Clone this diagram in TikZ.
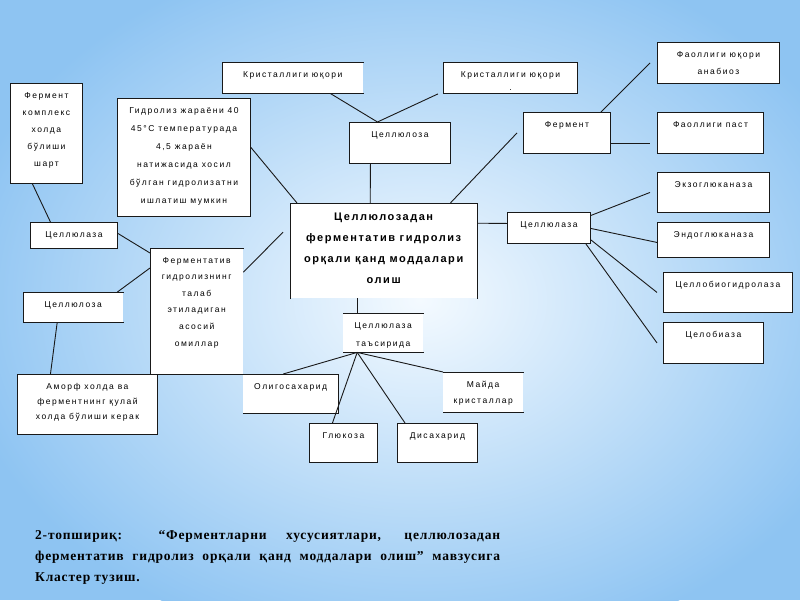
\documentclass[tikz,border=0pt]{standalone}
\usepackage{fontspec}
\setmainfont{Liberation Serif}
\newfontfamily\boxfont[LetterSpace=18]{Liberation Sans}
\newfontfamily\ttlfont[LetterSpace=14]{Liberation Sans}
\newfontfamily\capfont[LetterSpace=6]{Liberation Serif}
\definecolor{bgblue}{RGB}{142,196,242}
\definecolor{bglight}{RGB}{244,250,255}
\definecolor{lineclr}{RGB}{25,25,25}
\tikzset{
  box/.style={draw=lineclr, line width=0.9pt, fill=white, inner sep=0pt, rectangle},
  nobox/.style={draw=none, fill=white, inner sep=0pt, rectangle},
  txt/.style={font=\boxfont\fontsize{8.5}{17}\selectfont, align=center, inner sep=0pt, anchor=north},
  ttl/.style={font=\ttlfont\bfseries\fontsize{11}{21}\selectfont, align=center, inner sep=0pt, anchor=north},
  conn/.style={draw=lineclr, line width=0.9pt},
  edge/.style={draw=lineclr, line width=0.9pt, line cap=rect},
}
% #1 text opts, #2 box style, #3 name, #4 x1, #5 y1, #6 x2, #7 y2, #8 text
\newcommand\bx[8][]{%
  \node[#2, minimum width={(#6)-(#4)}, minimum height={(#7)-(#5)}, anchor=north west] (#3) at (#4,#5) {};
  \node[txt,#1] (#3-t) at ([yshift=-9pt]#3.north) {#8};
}
\begin{document}
\begin{tikzpicture}[x=1pt,y=-1pt]
\useasboundingbox (0,0) rectangle (800,600);
\begin{scope}
  \clip (0,0) rectangle (800,600);
  \fill[bgblue] (0,0) rectangle (800,600);
  \shade[inner color=bglight, outer color=bgblue] (420,300) ellipse (470 and 360);
\end{scope}

% boxes
\bx{box}{fk}{10}{83}{82}{183}{Фермент\\комплекс\\холда\\бўлиши\\шарт}
\bx[font=\boxfont\fontsize{8.5}{18}\selectfont]{box}{gid}{117}{98}{250}{216}{Гидролиз жараёни 40\\45°С температурада\\4,5 жараён\\натижасида хосил\\бўлган гидролизатни\\ишлатиш мумкин}
\bx{nobox}{kr1}{222}{62}{363}{93}{Кристаллиги юқори}
\bx[font=\boxfont\fontsize{8.5}{13}\selectfont]{box}{kr2}{443}{62}{577}{93}{Кристаллиги юқори\\.}
\bx{box}{cz}{349}{122}{450}{163}{Целлюлоза}
\node[nobox, minimum width=187, minimum height=95, anchor=north west] (main) at (290,203) {};
\node[ttl] (main-t) at ([yshift=-10pt]main.north) {Целлюлозадан\\ферментатив гидролиз\\орқали қанд моддалари\\олиш};
\bx{box}{fer}{523}{112}{610}{153}{Фермент}
\bx{box}{fy}{657}{42}{779}{83}{Фаоллиги юқори\\анабиоз}
\bx{box}{fp}{657}{112}{763}{153}{Фаоллиги паст}
\bx{box}{clr}{507}{212}{590}{243}{Целлюлаза}
\bx{box}{ekz}{657}{172}{769}{212}{Экзоглюканаза}
\bx{box}{endo}{657}{222}{769}{257}{Эндоглюканаза}
\bx{box}{cbg}{663}{272}{792}{312}{Целлобиогидролаза}
\bx{box}{cba}{663}{322}{763}{363}{Целобиаза}
\bx{box}{cll}{30}{222}{117}{248}{Целлюлаза}
\bx{nobox}{clz}{23}{292}{123}{322}{Целлюлоза}
\bx[font=\boxfont\fontsize{8.5}{16.6}\selectfont]{nobox}{fat}{150}{248}{243}{374}{Ферментатив\\гидролизнинг\\талаб\\этиладиган\\асосий\\омиллар}
\bx[font=\boxfont\fontsize{8.5}{15}\selectfont]{box}{amf}{17}{374}{157}{434}{Аморф холда ва\\ферментнинг қулай\\холда бўлиши керак}
\bx{nobox}{oli}{243}{374}{338}{413}{Олигосахарид}
\bx[font=\boxfont\fontsize{8.5}{18}\selectfont]{nobox}{tas}{343}{313}{423}{352}{Целлюлаза\\таъсирида}
\bx{box}{glk}{309}{423}{377}{462}{Глюкоза}
\bx{box}{dis}{397}{423}{477}{462}{Дисахарид}
\bx[font=\boxfont\fontsize{8.5}{16}\selectfont]{nobox}{may}{443}{372}{523}{412}{Майда\\кристаллар}

% partial box edges
\draw[edge] (main.south west) -- (main.north west) -- (main.north east) -- (main.south east);
\draw[edge] (kr1.north east) -- (kr1.north west) -- (kr1.south west) -- (kr1.south east);
\draw[edge] (clz.north east) -- (clz.north west) -- (clz.south west) -- (clz.south east);
\draw[edge] (fat.north east) -- (fat.north west) -- (fat.south west) -- (fat.south east);
\draw[edge] (oli.north west) -- (oli.north east) -- (oli.south east) -- (oli.south west);
\draw[edge] (tas.north west) -- (tas.north east) (tas.south west) -- (tas.south east);
\draw[edge] (may.north west) -- (may.north east) (may.south west) -- (may.south east);

% connectors
\draw[conn] ([xshift=37.5pt]kr1.south) -- ([xshift=-22.5pt]cz.north);
\draw[conn] ([xshift=-5pt]kr2.south west) -- ([xshift=-22.5pt]cz.north);
\draw[conn] ([xshift=-29.5pt]cz.south) -- ([xshift=-13.5pt]main.north);
\draw[conn] ([yshift=10pt]gid.east) -- ([xshift=7pt]main.north west);
\draw[conn] ([xshift=-6pt]fer.west) -- ([xshift=-27pt]main.north east);
\draw[conn] ([xshift=-10pt]fer.north east) -- ([xshift=-7pt]fy.west);
\draw[conn] ([yshift=-10.5pt]fer.east) -- ([xshift=-7pt,yshift=-10.5pt]fp.west);
\draw[conn] ([yshift=27.5pt]main.east) -- ([yshift=4.5pt]clr.west);
\draw[conn] ([yshift=12.5pt]clr.east) -- ([xshift=-7pt]ekz.west);
\draw[conn] ([yshift=-0.5pt]clr.east) -- ([yshift=-2.5pt]endo.west);
\draw[conn] ([yshift=4pt]clr.south east) -- ([xshift=-6pt]cbg.west);
\draw[conn] ([xshift=-5pt]clr.south east) -- ([xshift=-6pt]cba.west);
\draw[conn] ([xshift=-14pt]fk.south) -- ([xshift=-23.5pt]cll.north);
\draw[conn] ([yshift=2pt]cll.east) -- ([yshift=-5pt]fat.north west);
\draw[conn] ([xshift=-6pt]clz.north east) -- ([yshift=-20pt]fat.north west);
\draw[conn] ([xshift=-16pt]clz.south) -- ([xshift=-37pt]amf.north);
\draw[conn] ([yshift=39pt]fat.east) -- ([xshift=-7pt,yshift=18.5pt]main.west);
\draw[conn] ([xshift=-26.5pt]main.south) -- ([xshift=-26pt]tas.north);
\draw[conn] ([xshift=-26pt]tas.south) -- ([xshift=-7.5pt]oli.north);
\draw[conn] ([xshift=-26pt]tas.south) -- ([xshift=-11pt]glk.north);
\draw[conn] ([xshift=-26pt]tas.south) -- ([xshift=8pt]dis.north west);
\draw[conn] ([xshift=-26pt]tas.south) -- (may.north west);

% caption
\node[font=\capfont\bfseries\fontsize{13.5}{21}\selectfont, text width=465pt, align=justify, inner sep=0pt, anchor=north west] (cap) at (35,530)
 {2-топшириқ: “Ферментларни хусусиятлари, целлюлозадан\linebreak ферментатив гидролиз орқали қанд моддалари олиш” мавзусига\linebreak Кластер тузиш.};
\end{tikzpicture}
\end{document}
